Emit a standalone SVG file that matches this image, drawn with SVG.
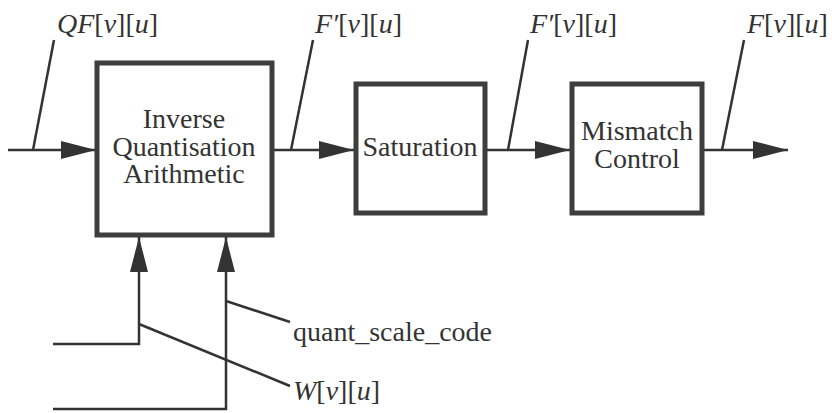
<svg xmlns="http://www.w3.org/2000/svg" width="832" height="413" viewBox="0 0 832 413">
<style>
.box{fill:#fff;stroke:#3d3d3d;stroke-width:5}
.ln{fill:none;stroke:#333;stroke-width:2.5}
.t{font-family:"Liberation Serif","Times New Roman",serif;font-size:28px;fill:#333}
.c{text-anchor:middle}
.i{font-style:italic}
</style>
<defs>
<marker id="ah" markerUnits="userSpaceOnUse" markerWidth="36" markerHeight="20" refX="35" refY="10" orient="auto">
<path d="M0,1 L35,10 L0,19 Z" fill="#333"/>
</marker>
</defs>
<rect width="832" height="413" fill="#fff"/>
<g id="connectors">
<line class="ln" x1="8" y1="150" x2="96" y2="150" marker-end="url(#ah)"/>
<line class="ln" x1="272" y1="150" x2="354" y2="150" marker-end="url(#ah)"/>
<line class="ln" x1="486" y1="150" x2="570" y2="150" marker-end="url(#ah)"/>
<line class="ln" x1="703" y1="150" x2="788" y2="150" marker-end="url(#ah)"/>
<polyline class="ln" points="53,344 139,344 139,237" marker-end="url(#ah)"/>
<polyline class="ln" points="53,409 226,409 226,237" marker-end="url(#ah)"/>
<line class="ln" x1="54" y1="40" x2="33" y2="150"/>
<line class="ln" x1="313" y1="40" x2="291" y2="150"/>
<line class="ln" x1="528" y1="40" x2="508" y2="150"/>
<line class="ln" x1="744" y1="40" x2="722" y2="150"/>
<line class="ln" x1="226" y1="301" x2="290" y2="322"/>
<line class="ln" x1="139" y1="324" x2="290" y2="386"/>
</g>
<g id="iqa">
<rect class="box" x="97" y="63" width="175" height="172"/>
<text class="t c" x="184" y="128">Inverse</text>
<text class="t c" x="184" y="156">Quantisation</text>
<text class="t c" x="184" y="183">Arithmetic</text>
</g>
<g id="saturation">
<rect class="box" x="356" y="84" width="129" height="129"/>
<text class="t c" x="420" y="156">Saturation</text>
</g>
<g id="mismatch">
<rect class="box" x="572" y="84" width="130" height="129"/>
<text class="t c" x="637" y="140">Mismatch</text>
<text class="t c" x="637" y="168">Control</text>
</g>
<g id="labels">
<text class="t" x="57" y="33"><tspan class="i">QF</tspan>[<tspan class="i">v</tspan>][<tspan class="i">u</tspan>]</text>
<text class="t" x="315" y="33"><tspan class="i">F′</tspan>[<tspan class="i">v</tspan>][<tspan class="i">u</tspan>]</text>
<text class="t" x="530" y="33"><tspan class="i">F′</tspan>[<tspan class="i">v</tspan>][<tspan class="i">u</tspan>]</text>
<text class="t" x="747" y="33"><tspan class="i">F</tspan>[<tspan class="i">v</tspan>][<tspan class="i">u</tspan>]</text>
<text class="t" x="293" y="341">quant_scale_code</text>
<text class="t" x="293" y="400"><tspan class="i">W</tspan>[<tspan class="i">v</tspan>][<tspan class="i">u</tspan>]</text>
</g>
</svg>
